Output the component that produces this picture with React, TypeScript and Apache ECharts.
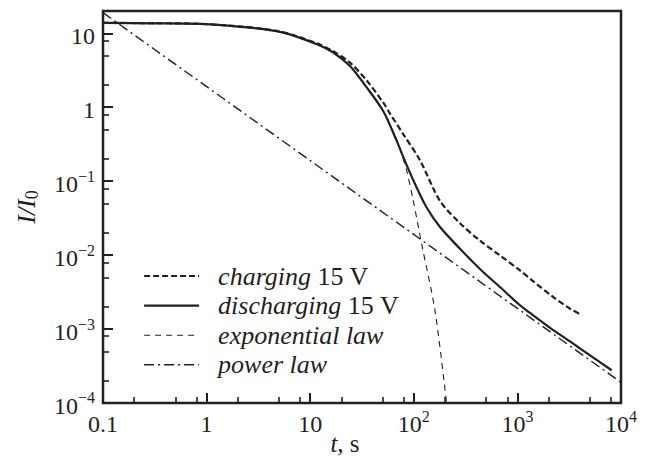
import React, { useEffect, useRef } from 'react';
import * as echarts from 'echarts';

const INK = '#231f20';
const FONT = 'Liberation Serif';

// Axis ticks (log axes)
const xMajorTicks = [0.1, 1, 10, 100, 1000, 10000];
const xMinorTicks = [0.2, 0.5, 0.8, 2, 5, 8, 20, 50, 80, 200, 500, 800, 2000, 5000, 8000];
const yMajorTicks = [1e-4, 1e-3, 1e-2, 1e-1, 1, 10];
const yMinorTicks = [2e-4, 5e-4, 8e-4, 2e-3, 5e-3, 8e-3, 0.02, 0.05, 0.08, 0.2, 0.5, 0.8, 2, 5, 8];

// Series names
const seriesNames = ['charging 15 V', 'discharging 15 V', 'exponential law', 'power law'];

// charging 15 V (dashed, thick)
const chargingT = [0.1, 0.3, 0.86, 2.62, 5.5, 11.6, 16.7, 24.2, 35.1, 50.8, 58.9, 79.3, 115, 179, 279, 435, 679, 1059, 1427, 2223, 3222, 4180];
const chargingI = [13.8, 13.7, 13.4, 12.0, 10.3, 7.3, 5.7, 4.0, 2.3, 1.15, 0.82, 0.43, 0.19, 0.054, 0.027, 0.0157, 0.0099, 0.0062, 0.0044, 0.0027, 0.00188, 0.00155];

// discharging 15 V (solid)
const dischargingT = [0.1, 0.3, 0.86, 2.62, 5.5, 11.6, 16.7, 24.2, 35.1, 50.8, 68.4, 79.3, 98.9, 133, 179, 279, 435, 679, 1059, 1325, 2065, 3222, 5410, 8130];
const dischargingI = [13.8, 13.6, 13.4, 11.9, 10.2, 7.1, 5.5, 3.6, 1.85, 0.88, 0.35, 0.21, 0.103, 0.044, 0.024, 0.0122, 0.0065, 0.0037, 0.0021, 0.00165, 0.00104, 0.00068, 0.00041, 0.000277];

// exponential law (thin dashed)
const expT = [0.1, 0.3, 0.86, 2.62, 5.5, 11.6, 16.7, 24.2, 35.1, 50.8, 68.4, 76.4, 85.3, 98.8, 119, 160, 207];
const expI = [13.8, 13.6, 13.4, 11.9, 10.2, 7.1, 5.5, 3.6, 1.85, 0.88, 0.36, 0.233, 0.139, 0.0546, 0.0142, 0.00179, 0.0001];

// power law (dash-dot straight line in log-log)
const powerT = [0.1, 10000];
const powerI = [19, 0.00019];

const zip = (a: number[], b: number[]) => a.map((v, i) => [v, b[i]]);

const lineStyles: any[] = [
  { color: INK, width: 2.2, type: [6, 3] },
  { color: INK, width: 2.2, type: 'solid' },
  { color: INK, width: 1.1, type: [6, 5] },
  { color: INK, width: 1.4, type: [10, 4, 2, 4] },
];

const labelRich = {
  b: { fontFamily: FONT, fontSize: 24, lineHeight: 24, color: INK, padding: [6, 0, 0, 0] },
  s: { fontFamily: FONT, fontSize: 16, lineHeight: 16, color: INK, padding: [0, 0, 10, 0] },
};

function tickLabel(v: number, isX: boolean): string {
  const n = Math.round(Math.log10(v));
  if (isX && n === -1) return '{b|0.1}';
  if (n === 0) return '{b|1}';
  if (n === 1) return '{b|10}';
  const e = n < 0 ? '\u2212' + (-n) : String(n);
  return '{b|10}{s|' + e + '}';
}

const legendLabel: Record<string, string> = {
  'charging 15 V': '{i|charging} {r|15 V}',
  'discharging 15 V': '{i|discharging} {r|15 V}',
  'exponential law': '{i|exponential law}',
  'power law': '{i|power law}',
};

export default function App() {
  const ref = useRef<HTMLDivElement>(null);

  useEffect(() => {
    if (!ref.current) return;
    const chart = echarts.init(ref.current, undefined, { renderer: 'svg' });

    const xMin = 0.09999, xMax = 10001, yMin = 0.00009999, yMax = 20;

    const option: any = {
      animation: false,
      backgroundColor: '#ffffff',
      textStyle: { fontFamily: FONT },
      grid: {
        left: 103, top: 11, width: 518, height: 392,
        containLabel: false, outerBoundsMode: 'none',
        show: true, borderColor: INK, borderWidth: 2.5, backgroundColor: 'transparent',
      },
      legend: {
        orient: 'vertical', left: 143, top: 263, padding: 0,
        itemWidth: 55, itemHeight: 22, itemGap: 3.6,
        itemStyle: { opacity: 0, color: 'rgba(0,0,0,0)', borderWidth: 0 },
        data: seriesNames.map((n, i) => ({
          name: n,
          itemStyle: { opacity: 0 },
          lineStyle: { width: lineStyles[i].width, type: lineStyles[i].type, color: INK },
        })),
        formatter: (name: string) => legendLabel[name] || name,
        textStyle: {
          fontFamily: FONT, fontSize: 26, lineHeight: 22, color: INK,
          rich: {
            i: { fontFamily: FONT, fontSize: 26, lineHeight: 22, fontStyle: 'italic', color: INK, padding: [0, 0, 0, 14] },
            r: { fontFamily: FONT, fontSize: 26, lineHeight: 22, color: INK },
          },
        },
      },
      xAxis: [
        {
          type: 'log', logBase: 10, min: xMin, max: xMax, position: 'bottom',
          axisLine: { show: false },
          splitLine: { show: false },
          axisTick: { show: true, inside: true, length: 10, lineStyle: { color: INK, width: 2 }, customValues: xMajorTicks },
          axisLabel: {
            show: true, margin: 6, customValues: xMajorTicks, hideOverlap: false,
            formatter: (v: number) => tickLabel(v, true), rich: labelRich,
          },
          name: '{i|t}{r|, s}', nameLocation: 'middle', nameGap: 28, nameMoveOverlap: false,
          nameTextStyle: {
            padding: [0, 34, 0, 0],
            rich: {
              i: { fontFamily: FONT, fontSize: 25, fontStyle: 'italic', color: INK },
              r: { fontFamily: FONT, fontSize: 25, color: INK },
            },
          },
        },
        {
          type: 'log', logBase: 10, min: xMin, max: xMax, position: 'bottom', gridIndex: 0,
          axisLine: { show: false }, splitLine: { show: false },
          axisTick: { show: true, inside: true, length: 6, lineStyle: { color: INK, width: 1.6 }, customValues: xMinorTicks },
          axisLabel: { show: false },
        },
      ],
      yAxis: [
        {
          type: 'log', logBase: 10, min: yMin, max: yMax, position: 'left',
          axisLine: { show: false },
          splitLine: { show: false },
          axisTick: { show: true, inside: true, length: 10, lineStyle: { color: INK, width: 2 }, customValues: yMajorTicks },
          axisLabel: {
            show: true, margin: 8, customValues: yMajorTicks, hideOverlap: false,
            formatter: (v: number) => tickLabel(v, false), rich: labelRich,
          },
          name: '{i|I/I}{sub|0}', nameLocation: 'middle', nameGap: 62, nameRotate: 90, nameMoveOverlap: false,
          nameTextStyle: {
            rich: {
              i: { fontFamily: FONT, fontSize: 26, fontStyle: 'italic', color: INK },
              sub: { fontFamily: FONT, fontSize: 18, color: INK, padding: [12, 0, 0, 0] },
            },
          },
        },
        {
          type: 'log', logBase: 10, min: yMin, max: yMax, position: 'left', gridIndex: 0,
          axisLine: { show: false }, splitLine: { show: false },
          axisTick: { show: true, inside: true, length: 6, lineStyle: { color: INK, width: 1.6 }, customValues: yMinorTicks },
          axisLabel: { show: false },
        },
      ],
      series: [
        {
          name: seriesNames[0], type: 'line', xAxisIndex: 0, yAxisIndex: 0,
          data: zip(chargingT, chargingI), symbol: 'none', showSymbol: false, smooth: 0.3,
          lineStyle: lineStyles[0], z: 3,
        },
        {
          name: seriesNames[1], type: 'line', xAxisIndex: 0, yAxisIndex: 0,
          data: zip(dischargingT, dischargingI), symbol: 'none', showSymbol: false, smooth: 0.3,
          lineStyle: lineStyles[1], z: 3,
        },
        {
          name: seriesNames[2], type: 'line', xAxisIndex: 0, yAxisIndex: 0,
          data: zip(expT, expI), symbol: 'none', showSymbol: false, smooth: 0.3,
          lineStyle: lineStyles[2], z: 2,
        },
        {
          name: seriesNames[3], type: 'line', xAxisIndex: 0, yAxisIndex: 0,
          data: zip(powerT, powerI), symbol: 'none', showSymbol: false,
          lineStyle: lineStyles[3], z: 2,
        },
      ],
    };

    chart.setOption(option);
    return () => chart.dispose();
  }, []);

  return (
    <div
      ref={ref}
      style={{ position: 'fixed', left: 0, top: 0, width: 651, height: 462, background: '#fff' }}
    />
  );
}
